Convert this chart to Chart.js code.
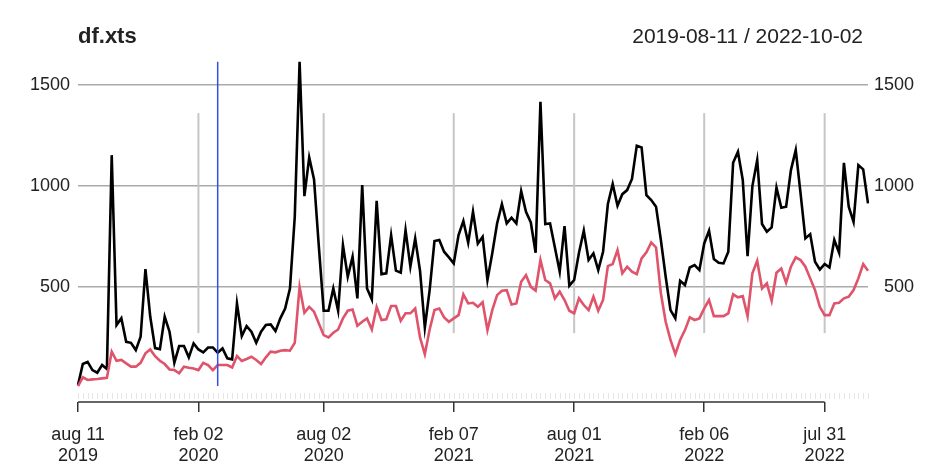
<!DOCTYPE html>
<html>
<head>
<meta charset="utf-8">
<script src="https://cdn.jsdelivr.net/npm/chart.js@4"></script>
<style>
  body { margin: 0; background: #fff; }
  #wrap { width: 944px; height: 476px; }
</style>
</head>
<body>
<div id="wrap"><canvas id="xtsChart" width="944" height="476"></canvas></div>
<script>
// Weekly series, first week 2019-08-11
const startDate = '2019-08-11';
const endDate = '2022-10-02';
const chartTitle = 'df.xts';

const blackSeries = [15,119,130,89,76,114,94,1153,312,346,
  229,224,188,254,589,353,198,193,353,279,
  125,208,208,152,221,191,177,201,201,175,
  196,147,142,419,257,307,279,224,279,312,
  315,282,345,394,493,848,1615,950,1142,1033,
  700,383,383,493,383,708,551,650,444,1005,
  493,439,927,564,568,757,581,571,782,601,
  741,581,300,485,728,733,675,647,617,757,
  827,719,873,715,749,535,667,815,911,815,
  843,815,975,873,820,670,1417,812,815,696,
  576,802,507,535,670,779,634,667,584,675,
  911,1010,903,960,980,1035,1200,1191,955,931,
  898,733,551,386,345,531,510,597,609,584,
  716,779,639,620,617,675,1115,1170,1030,653,
  1000,1129,812,774,795,992,893,898,1079,1178,
  964,741,762,625,587,614,597,733,670,1115,
  898,823,1104,1083,914];

const redSeries = [10,53,40,43,45,48,51,180,135,139,
  122,106,106,125,172,191,158,135,119,92,
  89,73,106,101,97,89,125,114,89,114,
  114,114,102,158,134,144,155,139,119,152,
  180,177,185,188,185,224,501,373,402,378,
  320,262,251,274,290,345,383,389,308,328,
  345,290,402,337,340,406,406,333,370,370,
  394,251,168,290,386,394,350,328,345,361,
  464,419,422,402,425,287,386,460,482,485,
  414,419,526,559,501,482,634,535,518,444,
  477,436,383,370,444,411,386,452,383,436,
  604,614,683,568,601,576,564,642,672,721,
  696,469,328,238,168,238,287,350,337,345,
  394,436,356,356,356,370,464,449,455,356,
  568,630,493,518,432,571,592,521,601,647,
  634,601,543,485,402,361,361,419,422,444,
  452,485,543,614,581];

// x axis ticks (week index into the series)
const tickWeeks = [0, 25, 51, 78, 103, 130, 155];
const tickDays = ['aug 11', 'feb 02', 'aug 02', 'feb 07', 'aug 01', 'feb 06', 'jul 31'];
const tickYears = ['2019', '2020', '2020', '2021', '2021', '2022', '2022'];

const yTicks = [500, 1000, 1500];
const yRange = [-69, 1634];

// event line (week of 2020-03-01) and short vertical grid span
const eventWeek = 29;
const vGridSpan = [272, 1361];

// week labels
const weeks = [];
for (let i = 0; i < blackSeries.length; i++) {
  const d = new Date(startDate + 'T00:00:00Z');
  d.setUTCDate(d.getUTCDate() + i * 7);
  weeks.push(d.toISOString().slice(0, 10));
}

const FONT = '"Liberation Sans", Arial, sans-serif';

// Extra xts-style decorations
const xtsDecor = {
  id: 'xtsDecor',
  beforeDatasetsDraw(chart) {
    const { ctx, chartArea, scales } = chart;
    const x = scales.x, y = scales.y;
    ctx.save();

    // vertical grid lines at the major ticks
    ctx.strokeStyle = '#c6c6c6';
    ctx.lineWidth = 2;
    tickWeeks.slice(1).forEach(w => {
      const px = x.getPixelForValue(w);
      ctx.beginPath();
      ctx.moveTo(px, y.getPixelForValue(vGridSpan[1]));
      ctx.lineTo(px, y.getPixelForValue(vGridSpan[0]));
      ctx.stroke();
    });

    // minor ticks for every week
    ctx.strokeStyle = '#e6e6e6';
    ctx.lineWidth = 1;
    weeks.forEach((w, i) => {
      const px = Math.round(x.getPixelForValue(i)) + 0.5;
      ctx.beginPath();
      ctx.moveTo(px, chartArea.bottom - 9);
      ctx.lineTo(px, chartArea.bottom - 3);
      ctx.stroke();
    });
    ctx.restore();
  },
  afterDatasetsDraw(chart) {
    const { ctx, chartArea, scales } = chart;
    const x = scales.x, y = scales.y;
    const all = blackSeries.concat(redSeries);
    ctx.save();

    // event line
    const ex = x.getPixelForValue(eventWeek);
    ctx.strokeStyle = '#3050e8';
    ctx.lineWidth = 1.5;
    ctx.beginPath();
    ctx.moveTo(ex, y.getPixelForValue(Math.max(...all)));
    ctx.lineTo(ex, y.getPixelForValue(Math.min(...all)));
    ctx.stroke();

    // axis line from first to last tick
    ctx.strokeStyle = '#333';
    ctx.lineWidth = 1.5;
    ctx.beginPath();
    ctx.moveTo(x.getPixelForValue(tickWeeks[0]), chartArea.bottom);
    ctx.lineTo(x.getPixelForValue(tickWeeks[tickWeeks.length - 1]), chartArea.bottom);
    ctx.stroke();

    // header
    ctx.fillStyle = '#222';
    ctx.textBaseline = 'alphabetic';
    ctx.font = 'bold 22px ' + FONT;
    ctx.textAlign = 'left';
    ctx.fillText(chartTitle, chartArea.left, 43);
    ctx.font = '21px ' + FONT;
    ctx.textAlign = 'right';
    ctx.fillText(startDate + ' / ' + endDate, chartArea.right - 5, 43);
    ctx.restore();
  }
};

const yTickOpts = {
  font: { family: FONT, size: 18 },
  color: '#222',
  callback: v => String(v)
};

new Chart(document.getElementById('xtsChart'), {
  type: 'line',
  data: {
    labels: weeks,
    datasets: [
      {
        label: 'black',
        data: blackSeries,
        borderColor: '#000000',
        borderWidth: 2.6,
        pointRadius: 0,
        tension: 0,
        order: 1
      },
      {
        label: 'red',
        data: redSeries,
        borderColor: '#DF536B',
        borderWidth: 2.6,
        pointRadius: 0,
        tension: 0,
        order: 0
      }
    ]
  },
  options: {
    responsive: false,
    animation: false,
    layout: { padding: { top: 58, right: 30, bottom: 0, left: 0 } },
    plugins: {
      legend: { display: false },
      tooltip: { enabled: false }
    },
    scales: {
      x: {
        type: 'category',
        offset: false,
        border: { display: false },
        grid: {
          drawOnChartArea: false,
          drawTicks: true,
          tickLength: 10,
          color: '#333',
          lineWidth: 1.5
        },
        ticks: {
          autoSkip: false,
          maxRotation: 0,
          padding: 12,
          font: { family: FONT, size: 18, lineHeight: 1.2 },
          color: '#222',
          callback: (value, index) => [tickDays[index], tickYears[index]]
        },
        afterBuildTicks: s => { s.ticks = tickWeeks.map(v => ({ value: v })); },
        afterFit: s => { s.height = 74; }
      },
      y: {
        position: 'left',
        min: yRange[0],
        max: yRange[1],
        border: { display: false },
        grid: { color: '#aaaaaa', lineWidth: 1.5, drawTicks: false },
        ticks: Object.assign({ padding: 8 }, yTickOpts),
        afterBuildTicks: s => { s.ticks = yTicks.map(v => ({ value: v })); },
        afterFit: s => { s.width = 78; }
      },
      y2: {
        position: 'right',
        min: yRange[0],
        max: yRange[1],
        border: { display: false },
        grid: { display: false, drawTicks: false },
        ticks: Object.assign({ padding: 8, crossAlign: 'far' }, yTickOpts),
        afterBuildTicks: s => { s.ticks = yTicks.map(v => ({ value: v })); },
        afterFit: s => { s.width = 46; }
      }
    }
  },
  plugins: [xtsDecor]
});
</script>
</body>
</html>
